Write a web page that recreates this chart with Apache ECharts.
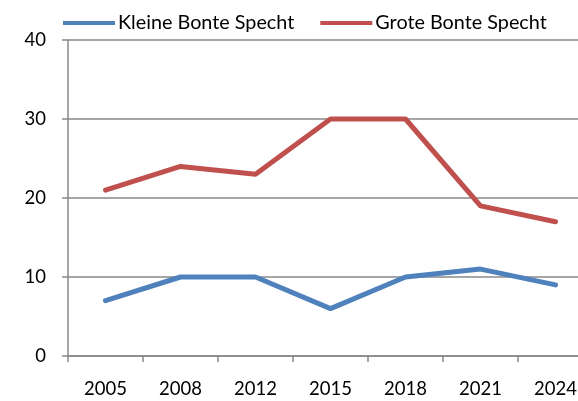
<!DOCTYPE html>
<html>
<head>
<meta charset="utf-8">
<script src="https://cdn.jsdelivr.net/npm/echarts@6/dist/echarts.min.js"></script>
<style>
  html, body { margin: 0; padding: 0; background: #fff; }
  #main { width: 578px; height: 401px; }
</style>
</head>
<body>
<div id="main"></div>
<script>
const years = ['2005', '2008', '2012', '2015', '2018', '2021', '2024'];
const kleineBonteSpecht = [7, 10, 10, 6, 10, 11, 9];
const groteBonteSpecht = [21, 24, 23, 30, 30, 19, 17];
const yTicks = [0, 10, 20, 30, 40];

const font = 'Lato';
const chart = echarts.init(document.getElementById('main'));
chart.setOption({
  animation: false,
  textStyle: { fontFamily: font },
  legend: {
    left: 58,
    top: 8,
    icon: 'rect',
    itemWidth: 52,
    itemHeight: 4,
    itemGap: 26,
    textStyle: { fontFamily: font, fontSize: 19.8, color: '#000', padding: [0, 0, 0, -2] },
    data: ['Kleine Bonte Specht', 'Grote Bonte Specht']
  },
  // category band is 75px; the last band runs past the right edge
  grid: { left: 68, top: 40, bottom: 45, width: 525, outerBoundsMode: 'none' },
  xAxis: {
    type: 'category',
    data: years,
    boundaryGap: true,
    axisLine: { lineStyle: { color: '#888', width: 1.5 } },
    axisTick: { show: true, length: 6, lineStyle: { color: '#888', width: 1.5 } },
    axisLabel: { fontFamily: font, fontSize: 18.5, color: '#000', margin: 24 }
  },
  yAxis: {
    type: 'value',
    min: yTicks[0],
    max: yTicks[yTicks.length - 1],
    interval: 10,
    axisLine: { show: true, lineStyle: { color: '#888', width: 1.5 } },
    axisTick: { show: true, length: 6, lineStyle: { color: '#888', width: 1.5 } },
    splitLine: { show: true, lineStyle: { color: '#888', width: 1.5 } },
    axisLabel: { fontFamily: font, fontSize: 18.5, color: '#000', margin: 22 }
  },
  series: [
    {
      name: 'Kleine Bonte Specht',
      type: 'line',
      data: kleineBonteSpecht,
      showSymbol: false,
      color: '#4F81BD',
      lineStyle: { width: 5, cap: 'round', join: 'round' }
    },
    {
      name: 'Grote Bonte Specht',
      type: 'line',
      data: groteBonteSpecht,
      showSymbol: false,
      color: '#C0504D',
      lineStyle: { width: 5, cap: 'round', join: 'round' }
    }
  ]
});
</script>
</body>
</html>
